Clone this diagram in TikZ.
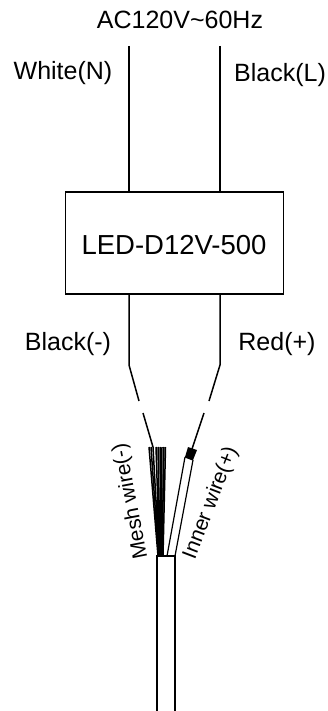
\documentclass[tikz,border=0pt]{standalone}
\usepackage{fontspec}
\setmainfont{Liberation Sans}
\tikzset{
  wire/.style={draw=black,line width=1.5pt},
  lbl/.style={inner sep=0pt,font=\fontsize{25}{28}\selectfont},
  sidelbl/.style={inner sep=0pt,font=\fontsize{21}{24}\selectfont},
  strand/.style={draw=black,line width=1.5pt}
}
\begin{document}
\begin{tikzpicture}[x=1pt,y=-1pt]
\useasboundingbox (0,0) rectangle (327,711);
\node[lbl] (ac) at (180,20) {AC120V\textasciitilde 60Hz};
\node[lbl] (wn) at (63,73) {White(N)};
\node[lbl] (bl) at (280,75) {Black(L)};
\node[draw=black,line width=1.5pt,minimum width=218pt,minimum height=102pt,inner sep=0pt] (box) at (174.5,243) {};
\node[inner sep=0pt,font=\fontsize{27.5}{30}\selectfont] (boxtext) at (174,245) {LED-D12V-500};
\node[lbl] (bm) at (68,344) {Black(-)};
\node[lbl] (rp) at (277,344) {Red(+)};
\coordinate (t1) at (129,46);
\coordinate (t2) at (220,46);
\coordinate (a1) at (129,192);
\coordinate (a2) at (220,192);
\coordinate (b1) at (129,294);
\coordinate (b2) at (220,294);
\coordinate (c1) at (129,365);
\coordinate (c2) at (220,365);
\coordinate (d1) at (139,401);
\coordinate (d2) at (209,401);
\coordinate (e1) at (143,413);
\coordinate (e2) at (204,413);
\coordinate (f1) at (153,447);
\coordinate (f2) at (192,449);
\draw[wire] (t1) -- (a1);
\draw[wire] (t2) -- (a2);
\draw[wire] (b1) -- (c1) -- (d1);
\draw[wire] (b2) -- (c2) -- (d2);
\draw[wire] (e1) -- (f1);
\draw[wire] (e2) -- (f2);
% mesh strands
\foreach \tx/\bx in {149/158,151/158.5,153/159,156/159.5,158/160,160/161,162/161.5,164/162,165.5/163}{
  \draw[strand] (\tx,447) -- (\bx,556);
}
\fill[black] (158,556) -- (164,556) -- (163,500) -- (156,500) -- cycle;
% inner wire
\coordinate (w1) at (185,457);
\coordinate (w2) at (193,460);
\coordinate (w3) at (167,556);
\coordinate (w4) at (175,556);
\fill[black] (188,447) -- (197,450) -- (193,460) -- (185,457) -- cycle;
\draw[line width=1.2pt] (w1) -- (w3);
\draw[line width=1.2pt] (w2) -- (w4);
\draw[line width=1.2pt] (w1) -- (w2);
% cable
\coordinate (k1) at (157,711);
\coordinate (k2) at (175,711);
\draw[wire] (k1) -- (157,556) -- (175,556) -- (k2);
\node[sidelbl,rotate=101] (mw) at (131,501) {Mesh wire(-)};
\node[sidelbl,rotate=69] (iw) at (211,503) {Inner wire(+)};
\end{tikzpicture}
\end{document}
